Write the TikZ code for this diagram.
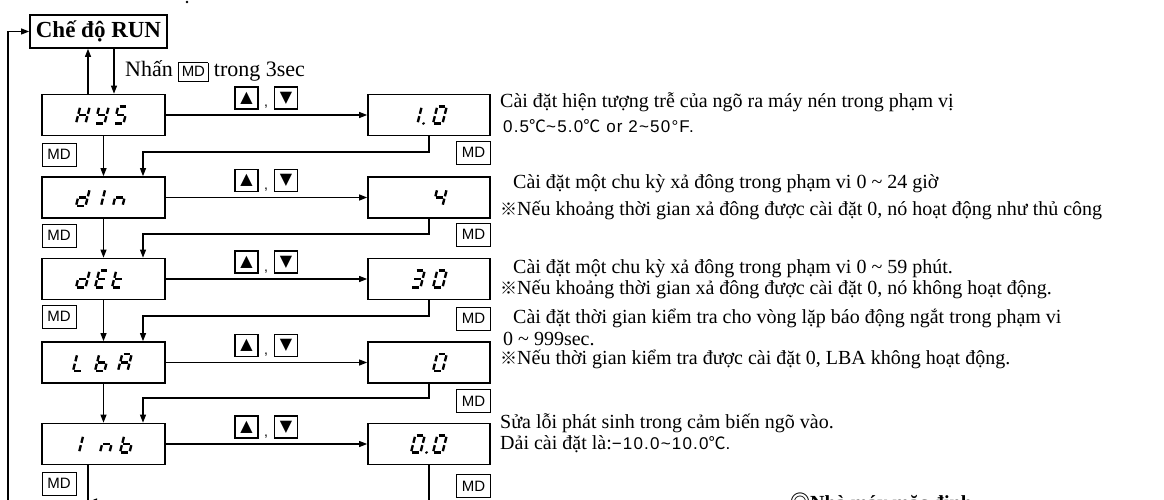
\documentclass[tikz,border=0pt]{standalone}
\usepackage{fontspec}
\setmainfont{Liberation Serif}
\newfontfamily\gsans{Liberation Sans}
\newfontfamily\gsansw[LetterSpace=7]{Liberation Sans}
\newfontfamily\cjk{Noto Sans CJK JP}
\newfontfamily\symf{DejaVu Sans}
\usetikzlibrary{arrows.meta}

% seven-segment display segments (local cell: width 9.5, height 17, origin bottom-left)
\newcommand\segA{\draw[segl] (1.3,-17) -- (8.2,-17);}
\newcommand\segB{\draw[segl] (9.5,-15.7) -- (9.5,-9.7);}
\newcommand\segC{\draw[segl] (9.5,-7.3) -- (9.5,-1.3);}
\newcommand\segD{\draw[segl] (1.3,0) -- (8.2,0);}
\newcommand\segE{\draw[segl] (0,-7.3) -- (0,-1.3);}
\newcommand\segF{\draw[segl] (0,-15.7) -- (0,-9.7);}
\newcommand\segG{\draw[segl] (1.3,-8.5) -- (8.2,-8.5);}
\newcommand\segP{\fill (15.5,0) circle (1.5);}
\newcommand\glyph[3]{\begin{scope}[shift={(#1,#2)},xslant=0.25]#3\end{scope}}
% characters
\newcommand\chH{\segB\segC\segE\segF\segG}
\newcommand\chY{\segB\segC\segD\segF\segG}
\newcommand\chS{\segA\segC\segD\segF\segG}
\newcommand\chd{\segB\segC\segD\segE\segG}
\newcommand\chI{\segE\segF}
\newcommand\chn{\segC\segE\segG}
\newcommand\chE{\segA\segD\segE\segF\segG}
\newcommand\cht{\segD\segE\segF\segG}
\newcommand\chL{\segD\segE\segF}
\newcommand\chb{\segC\segD\segE\segF\segG}
\newcommand\chA{\segA\segB\segC\segE\segF\segG}
\newcommand\chOne{\segB\segC}
\newcommand\chZero{\segA\segB\segC\segD\segE\segF}
\newcommand\chFour{\segB\segC\segF\segG}
\newcommand\chThree{\segA\segB\segC\segD\segG}

\newcommand\mdkey{{\setlength\fboxsep{2.5pt}\setlength\fboxrule{0.9pt}\fbox{\gsans\fontsize{15}{15}\selectfont\rule[-2pt]{0pt}{13.5pt}MD}}}
\newcommand\refmark{{\cjk\fontsize{17}{17}\selectfont ※}}
\newcommand\degc{{\cjk ℃}}

\begin{document}
\begin{tikzpicture}[x=1pt,y=-1pt,
  runbox/.style={draw, line width=1.8pt, minimum width=137pt, minimum height=33pt, inner sep=0pt,
    font=\bfseries\fontsize{23}{23}\selectfont},
  lbox/.style={draw, line width=1.8pt, minimum width=123pt, minimum height=41pt, inner sep=0pt},
  disp/.style={lbox, minimum width=122pt},
  mdbox/.style={draw, line width=0.9pt, minimum width=34pt, minimum height=23pt, inner sep=0pt,
    font=\gsans\fontsize{15}{15}\selectfont},
  keybox/.style={draw, line width=1.1pt, minimum width=23pt, minimum height=22pt, inner sep=0pt,
    font=\symf\fontsize{16}{16}\selectfont},
  comma/.style={anchor=base, inner sep=0pt, font=\gsans\fontsize{14}{14}\selectfont},
  conn/.style={line width=1.1pt},
  arr/.style={conn, -{Triangle[length=8pt,width=6pt]}},
  desc/.style={anchor=base west, inner sep=0pt, font=\fontsize{20}{20}\selectfont},
  sdesc/.style={anchor=base west, inner sep=0pt, font=\gsansw\fontsize{17}{17}\selectfont},
  segl/.style={line width=2.4pt},
]
\fill[white] (0,0) rectangle (1164,500);
\useasboundingbox (0,0) rectangle (1164,500);

% mode box and its label
\node[runbox] (run) at (98.5,31.5) {Chế độ RUN};
\fill (187,2) circle (1.3);
\node[anchor=base west, inner sep=0pt, font=\fontsize{22}{22}\selectfont] (press) at (125,77) {Nhấn \mdkey{} trong 3sec};

% parameter boxes (left) and value boxes (right)
\node[lbox] (hys) at (103.5,115) {};
\node[lbox] (din) at (103.5,197.5) {};
\node[lbox] (det) at (103.5,279) {};
\node[lbox] (lba) at (103.5,362.5) {};
\node[lbox] (inb) at (103.5,444) {};
\node[disp] (v1) at (429,115) {};
\node[disp] (v2) at (429,197.5) {};
\node[disp] (v3) at (429,279) {};
\node[disp] (v4) at (429,362.5) {};
\node[disp] (v5) at (429,444) {};

% display glyphs
\glyph{76}{123.5}{\chH}\glyph{95}{123.5}{\chY}\glyph{114}{123.5}{\chS}
\glyph{76}{206}{\chd}\glyph{101}{206}{\chI}\glyph{113}{206}{\chn}
\glyph{76}{287.5}{\chd}\glyph{95}{287.5}{\chE}\glyph{112}{287.5}{\cht}
\glyph{73}{371}{\chL}\glyph{95}{371}{\chb}\glyph{118}{371}{\chA}
\glyph{79}{452.5}{\chI}\glyph{100}{452.5}{\chn}\glyph{120}{452.5}{\chb}
\glyph{408}{123.5}{\chOne\segP}\glyph{433}{123.5}{\chZero}
\glyph{433}{206}{\chFour}
\glyph{411}{287.5}{\chThree}\glyph{433}{287.5}{\chZero}
\glyph{433}{371}{\chZero}
\glyph{411}{452.5}{\chZero\segP}\glyph{433}{452.5}{\chZero}

% MD key labels
\node[mdbox] (ml1) at (59,154.5) {MD};
\node[mdbox] (ml2) at (59,235.5) {MD};
\node[mdbox] (ml3) at (59,316.5) {MD};
\node[mdbox] (ml5) at (59,483.5) {MD};
\node[mdbox] (mr1) at (473.5,152.5) {MD};
\node[mdbox] (mr2) at (473.5,234.5) {MD};
\node[mdbox] (mr3) at (473.5,318.5) {MD};
\node[mdbox] (mr4) at (473.5,401) {MD};
\node[mdbox] (mr5) at (473.5,486) {MD};

% up / down key labels
\foreach \i/\y in {1/115,2/197.5,3/279,4/362.5,5/444}{
  \node[keybox] (ku\i) at (246.5,\y-17) {▲};
  \node[keybox] (kd\i) at (286,\y-17) {▼};
  \node[comma] (kc\i) at (266,\y-8) {,};
}

% connectors
\draw[arr] ([xshift=-15.5pt]hys.north) -- ([xshift=-15.5pt]hys.north |- run.south);
\draw[arr] ([xshift=10.5pt]hys.north |- run.south) -- ([xshift=10.5pt]hys.north);
\coordinate (loopbot) at (8,510);
\draw[arr] (loopbot) |- (run.west);

\draw[arr] (hys.east) -- (v1.west);
\draw[arr] (din.east) -- (v2.west);
\draw[arr] (det.east) -- (v3.west);
\draw[arr] (lba.east) -- (v4.west);
\draw[arr] (inb.east) -- (v5.west);

\draw[arr] (hys.south) -- (din.north);
\draw[arr] (din.south) -- (det.north);
\draw[arr] (det.south) -- (lba.north);
\draw[arr] (lba.south) -- (inb.north);

\coordinate (r1) at (143,152);
\coordinate (r2) at (143,234);
\coordinate (r3) at (143,316);
\coordinate (r4) at (143,398);
\draw[arr] (v1.south) |- (r1) -- (r1 |- din.north);
\draw[arr] (v2.south) |- (r2) -- (r2 |- det.north);
\draw[arr] (v3.south) |- (r3) -- (r3 |- lba.north);
\draw[arr] (v4.south) |- (r4) -- (r4 |- inb.north);

\coordinate (inbdown) at (88,510);
\draw[conn] ([xshift=-15.5pt]inb.south) -- (inbdown);
\coordinate (r5) at (89,501.5);
\draw[arr] (v5.south) |- (r5);

% descriptions
\node[desc] (t1a) at (500,108) {Cài đặt hiện tượng trễ của ngõ ra máy nén trong phạm vị};
\node[sdesc] (t1b) at (503,132) {0.5\degc\textasciitilde5.0\degc{} or 2\textasciitilde50°F.};
\node[desc] (t2a) at (513,188) {Cài đặt một chu kỳ xả đông trong phạm vi 0 \textasciitilde{} 24 giờ};
\node[desc] (t2b) at (500,215) {\refmark Nếu khoảng thời gian xả đông được cài đặt 0, nó hoạt động như thủ công};
\node[desc] (t3a) at (513,273) {Cài đặt một chu kỳ xả đông trong phạm vi 0 \textasciitilde{} 59 phút.};
\node[desc] (t3b) at (500,294) {\refmark Nếu khoảng thời gian xả đông được cài đặt 0, nó không hoạt động.};
\node[desc] (t4a) at (513,323) {Cài đặt thời gian kiểm tra cho vòng lặp báo động ngắt trong phạm vi};
\node[desc] (t4b) at (503,345) {0 \textasciitilde{} 999sec.};
\node[desc] (t4c) at (500,364) {\refmark Nếu thời gian kiểm tra được cài đặt 0, LBA không hoạt động.};
\node[desc] (t5a) at (500,428) {Sửa lỗi phát sinh trong cảm biến ngõ vào.};
\node[desc] (t5b) at (500,449) {Dải cài đặt là:{\gsansw\fontsize{17}{17}\selectfont −10.0\textasciitilde10.0\degc.}};
\node[desc, font=\bfseries\fontsize{20}{20}\selectfont] (fact) at (790,509) {{\cjk ◎}Nhà máy mặc định};
\end{tikzpicture}
\end{document}
